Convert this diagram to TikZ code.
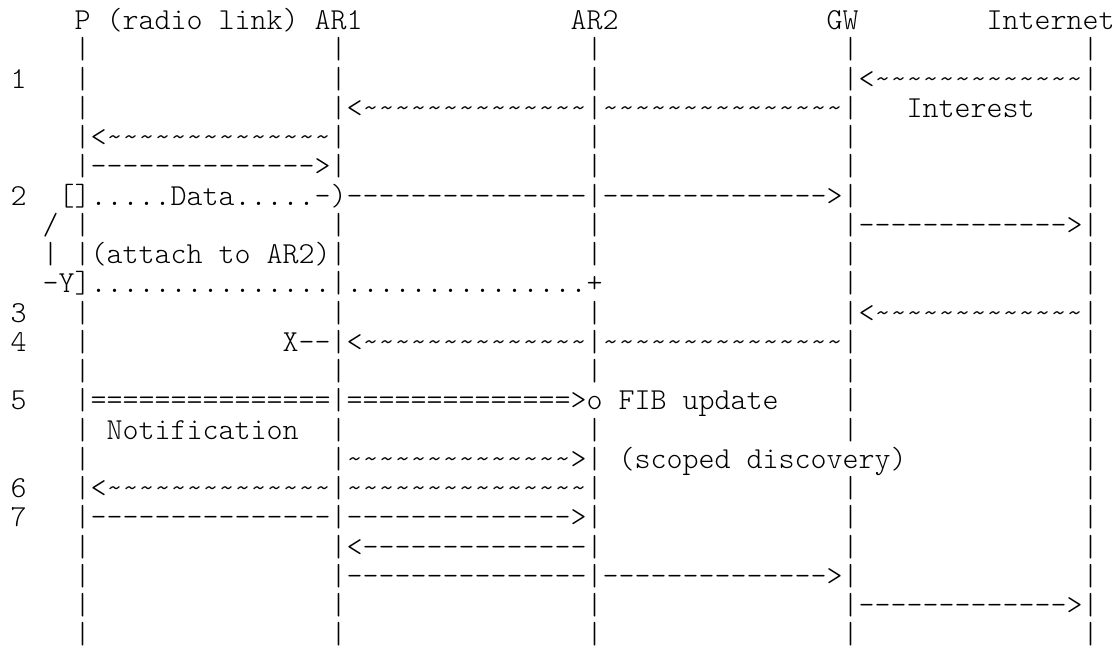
\documentclass[tikz,border=0pt]{standalone}
\usepackage{fontspec}
\setmonofont{Latin Modern Mono Light}
\ExplSyntaxOn
\cs_new:Npn \myrep #1#2 { \prg_replicate:nn {#1} {#2} }
\ExplSyntaxOff
\newcommand\tld{\textasciitilde}
\newcommand\tx[3]{\node[txt] (t-#1-#2) at ({10.5+16*#1},{-29.5-29.25*#2}) {#3};}
\newcommand\barsat[2]{\foreach \cc in {#2} {\tx{\cc}{#1}{|}}}
\tikzset{txt/.style={inner sep=0pt, outer sep=0pt, anchor=base west, text=black,
  font=\ttfamily\fontsize{30.48}{29.25}\selectfont}}
\begin{document}
\begin{tikzpicture}[x=1pt,y=1pt]
\useasboundingbox (0,0) rectangle (1118,-648);
% row 0 header
\tx{4}{0}{P (radio link) AR1}
\tx{35}{0}{AR2}
\tx{51}{0}{GW}
\tx{61}{0}{Internet}
% row 1
\barsat{1}{4,20,36,52,67}
% row 2
\tx{0}{2}{1}
\barsat{2}{4,20,36,52,67}
\tx{53}{2}{<\myrep{13}{\tld}}
% row 3
\barsat{3}{4,20,36,52,67}
\tx{21}{3}{<\myrep{14}{\tld}}
\tx{37}{3}{\myrep{15}{\tld}}
\tx{56}{3}{Interest}
% row 4
\barsat{4}{4,20,36,52,67}
\tx{5}{4}{<\myrep{14}{\tld}}
% row 5
\barsat{5}{4,20,36,52,67}
\tx{5}{5}{\myrep{14}{-}>}
% row 6
\tx{0}{6}{2}
\tx{3}{6}{[].....Data.....-)\myrep{15}{-}}
\barsat{6}{36,52,67}
\tx{37}{6}{\myrep{14}{-}>}
% row 7
\tx{2}{7}{/}
\barsat{7}{4,20,36,52,67}
\tx{53}{7}{\myrep{13}{-}>}
% row 8
\tx{2}{8}{|}
\barsat{8}{4,20,36,52,67}
\tx{5}{8}{(attach to AR2)}
% row 9
\tx{2}{9}{-Y]\myrep{15}{.}}
\barsat{9}{20,52,67}
\tx{21}{9}{\myrep{15}{.}+}
% row 10
\tx{0}{10}{3}
\barsat{10}{4,20,36,52,67}
\tx{53}{10}{<\myrep{13}{\tld}}
% row 11
\tx{0}{11}{4}
\barsat{11}{4,20,36,52,67}
\tx{17}{11}{X--}
\tx{21}{11}{<\myrep{14}{\tld}}
\tx{37}{11}{\myrep{15}{\tld}}
% row 12
\barsat{12}{4,20,36,52,67}
% row 13
\tx{0}{13}{5}
\barsat{13}{4,20,52,67}
\tx{5}{13}{\myrep{15}{=}}
\tx{21}{13}{\myrep{14}{=}>o FIB update}
% row 14
\barsat{14}{4,20,36,52,67}
\tx{6}{14}{Notification}
% row 15
\barsat{15}{4,20,36,67}
\tx{21}{15}{\myrep{14}{\tld}>}
\tx{38}{15}{(scoped discovery)}
% row 16
\tx{0}{16}{6}
\barsat{16}{4,20,36,52,67}
\tx{5}{16}{<\myrep{14}{\tld}}
\tx{21}{16}{\myrep{15}{\tld}}
% row 17
\tx{0}{17}{7}
\barsat{17}{4,20,36,52,67}
\tx{5}{17}{\myrep{15}{-}}
\tx{21}{17}{\myrep{14}{-}>}
% row 18
\barsat{18}{4,20,36,52,67}
\tx{21}{18}{<\myrep{14}{-}}
% row 19
\barsat{19}{4,20,36,52,67}
\tx{21}{19}{\myrep{15}{-}}
\tx{37}{19}{\myrep{14}{-}>}
% row 20
\barsat{20}{4,20,36,52,67}
\tx{53}{20}{\myrep{13}{-}>}
% row 21
\barsat{21}{4,20,36,52,67}
\end{tikzpicture}
\end{document}
